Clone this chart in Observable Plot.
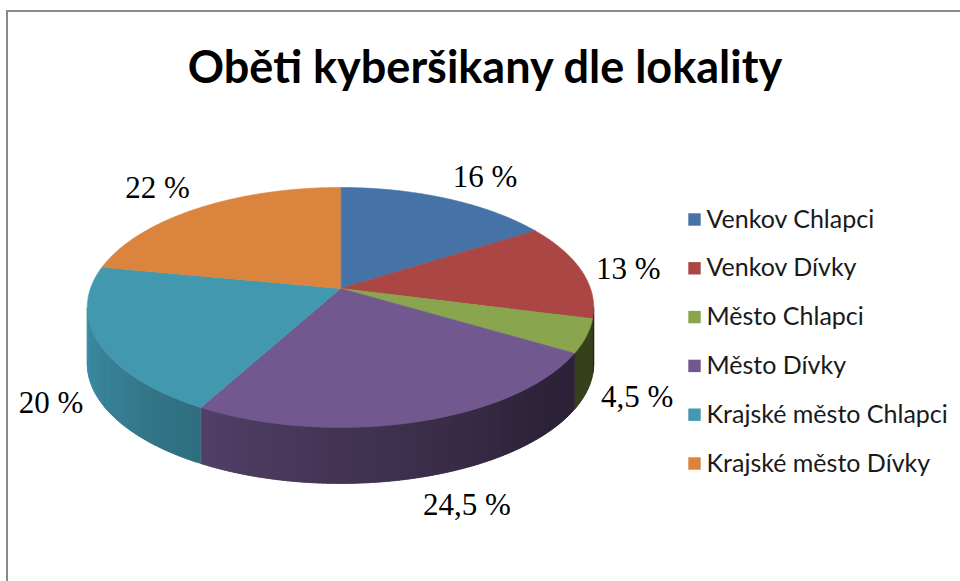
<!DOCTYPE html>
<html>
<head>
<meta charset="utf-8">
<script src="https://cdn.jsdelivr.net/npm/d3@7"></script>
<script src="https://cdn.jsdelivr.net/npm/@observablehq/plot@0.6"></script>
<style>
  html, body { margin: 0; padding: 0; background: #fff; }
  #wrap { position: relative; width: 960px; height: 581px; overflow: hidden; background: #fff; }
  #frame { position: absolute; left: 6px; top: 10px; width: 970px; height: 600px;
           border-top: 2px solid #8a8a8a; border-left: 2px solid #8a8a8a; }
  #title { position: absolute; left: 0; width: 970px; top: 38px; text-align: center;
           font-family: Lato, "Open Sans", sans-serif; font-weight: bold; font-size: 45px;
           line-height: 56px; color: #000; }
  #chart { position: absolute; left: 0; top: 120px; }
</style>
</head>
<body>
<div id="wrap">
  <div id="frame"></div>
  <div id="title">Oběti kyberšikany dle lokality</div>
  <div id="chart"></div>
</div>
<script>
// ---- data ----
const categories = ["Venkov Chlapci", "Venkov Dívky", "Město Chlapci", "Město Dívky", "Krajské město Chlapci", "Krajské město Dívky"];
const values = [16, 13, 4.5, 24.5, 20, 22];
const valueLabels = ["16 %", "13 %", "4,5 %", "24,5 %", "20 %", "22 %"];

// ---- style / layout ----
const palette = ["#4572a7", "#aa4643", "#89a54e", "#71588f", "#4198af", "#db843d"];
const CX = 340, CY = 288, RX = 250, RY = 117, E = 0.158, DEPTH = 56;
const STEP = Math.PI / 360;

function proj(t) {
  const u = Math.sin(t), v = Math.cos(t), w = 1 + E * v;
  return [CX + RX * u / w, CY - RY * v / w];
}
function shade(t) {
  const deg = t * 180 / Math.PI;
  return Math.max(0.4, Math.min(1, 0.39 + 0.00434 * (deg - 133)));
}

const arcs = d3.pie().sort(null).value(d => d)(values);

// top faces
const topRows = [];
arcs.forEach((a, i) => {
  topRows.push({id: "t" + i, x: CX, y: CY, fill: palette[i]});
  const n = Math.max(2, Math.ceil((a.endAngle - a.startAngle) / STEP));
  for (let k = 0; k <= n; k++) {
    const t = a.startAngle + (a.endAngle - a.startAngle) * k / n;
    const [x, y] = proj(t);
    topRows.push({id: "t" + i, x, y, fill: palette[i]});
  }
});

// visible side walls (front half), shaded in small overlapping strips
const tA = Math.acos(-E), tB = 2 * Math.PI - tA;
const sideRows = [];
arcs.forEach((a, i) => {
  const s = Math.max(a.startAngle, tA), e = Math.min(a.endAngle, tB);
  if (e <= s) return;
  const n = Math.max(1, Math.ceil((e - s) / (STEP * 2)));
  const c = d3.rgb(palette[i]);
  for (let k = 0; k < n; k++) {
    const t0 = s + (e - s) * k / n;
    const t1 = Math.min(e, s + (e - s) * (k + 1) / n + STEP * 1.5);
    const f = shade(s + (e - s) * (k + 0.5) / n);
    const col = d3.rgb(c.r * f, c.g * f, c.b * f).formatHex();
    const id = "s" + i + "_" + k;
    const p0 = proj(t0), p1 = proj(t1);
    sideRows.push({id, x: p0[0], y: p0[1], fill: col});
    sideRows.push({id, x: p1[0], y: p1[1], fill: col});
    sideRows.push({id, x: p1[0], y: p1[1] + DEPTH, fill: col});
    sideRows.push({id, x: p0[0], y: p0[1] + DEPTH, fill: col});
  }
});

// value labels placed just outside the slice rim
const labelRows = arcs.map((a, i) => {
  const t = (a.startAngle + a.endAngle) / 2;
  const [rx, ry] = proj(t);
  const s = Math.sin(t), c = Math.cos(t);
  let x = CX + (rx - CX) * 1.06;
  let y = CY + (ry - CY) * 1.1 + (c < 0 ? DEPTH : 0);
  const anchor = s > 0.2 ? "start" : (s < -0.2 ? "end" : "middle");
  if (c > 0.5) y -= 12; else if (c < -0.5) y += 14;
  return {x, y, text: valueLabels[i], anchor};
});

// legend
const legendRows = categories.map((name, i) => ({name, x: 694, y: 219 + i * 48.8, fill: palette[i]}));

const textMark = (anchor) => Plot.text(labelRows, {
  filter: d => d.anchor === anchor, x: "x", y: "y", text: "text",
  textAnchor: anchor, lineAnchor: "middle",
  fontFamily: "'Liberation Serif', 'Times New Roman', serif", fontSize: 31, fill: "#000"
});

const chart = Plot.plot({
  width: 960, height: 461,
  marginTop: 0, marginRight: 0, marginBottom: 0, marginLeft: 0,
  x: {domain: [0, 960], range: [0, 960], axis: null},
  y: {domain: [120, 581], range: [0, 461], axis: null},
  color: {type: "identity"},
  style: {background: "transparent", overflow: "visible"},
  marks: [
    Plot.line(sideRows, {x: "x", y: "y", z: "id", fill: "fill", stroke: "fill", strokeWidth: 0.6, curve: "linear-closed"}),
    Plot.line(topRows, {x: "x", y: "y", z: "id", fill: "fill", stroke: "fill", strokeWidth: 0.6, curve: "linear-closed"}),
    textMark("start"), textMark("middle"), textMark("end"),
    Plot.dot(legendRows, {x: "x", y: "y", fill: "fill", symbol: "square", r: 7}),
    Plot.text(legendRows, {x: d => d.x + 12, y: "y", text: "name", textAnchor: "start", lineAnchor: "middle",
      fontFamily: "Lato, 'Open Sans', sans-serif", fontSize: 25, fill: "#1a1a1a"})
  ]
});
document.getElementById("chart").appendChild(chart);
</script>
</body>
</html>
